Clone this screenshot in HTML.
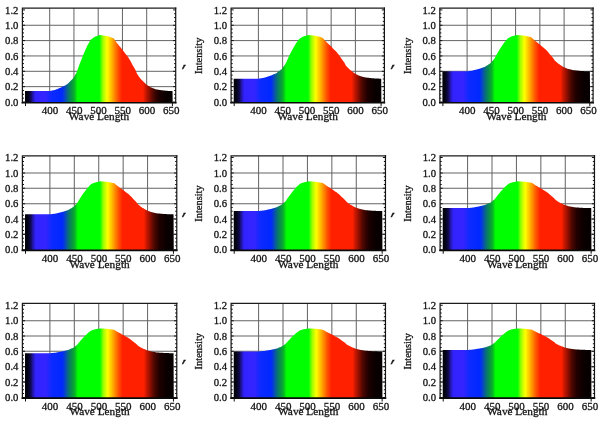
<!DOCTYPE html><html><head><meta charset="utf-8"><title>Spectra</title>
<style>html,body{margin:0;padding:0;background:#fff}svg{display:block;filter:blur(0.3px)}text{font-family:"Liberation Serif","DejaVu Serif",serif;fill:#141414;stroke:#141414;stroke-width:0.3px}</style></head><body>
<svg width="600" height="424" viewBox="0 0 600 424">
<defs><linearGradient id="sp" gradientUnits="userSpaceOnUse" x1="25.0" y1="0" x2="172.7" y2="0">
<stop offset="0.0000" stop-color="#000004"/>
<stop offset="0.0203" stop-color="#04041a"/>
<stop offset="0.0386" stop-color="#100a50"/>
<stop offset="0.0555" stop-color="#2418b8"/>
<stop offset="0.0724" stop-color="#3222ff"/>
<stop offset="0.1401" stop-color="#3424ff"/>
<stop offset="0.1808" stop-color="#0c2aff"/>
<stop offset="0.2505" stop-color="#0028ff"/>
<stop offset="0.2708" stop-color="#0848c0"/>
<stop offset="0.2911" stop-color="#087078"/>
<stop offset="0.3135" stop-color="#089048"/>
<stop offset="0.3338" stop-color="#08b028"/>
<stop offset="0.3555" stop-color="#00ff00"/>
<stop offset="0.5030" stop-color="#00ff00"/>
<stop offset="0.5281" stop-color="#a0ff00"/>
<stop offset="0.5552" stop-color="#ffff00"/>
<stop offset="0.5796" stop-color="#ffc800"/>
<stop offset="0.6026" stop-color="#ff9000"/>
<stop offset="0.6297" stop-color="#ff5000"/>
<stop offset="0.6567" stop-color="#ff2000"/>
<stop offset="0.7989" stop-color="#ff2000"/>
<stop offset="0.8172" stop-color="#c81800"/>
<stop offset="0.8348" stop-color="#a01000"/>
<stop offset="0.8666" stop-color="#500800"/>
<stop offset="0.9025" stop-color="#200000"/>
<stop offset="0.9323" stop-color="#120000"/>
<stop offset="0.9594" stop-color="#080000"/>
<stop offset="0.9932" stop-color="#060000"/>
</linearGradient></defs>
<g transform="translate(0.00,0)">
<g transform="translate(22.4,0) scale(1.0,1) translate(-22.4,0)">
<path d="M49.70 8.05V102.7M73.95 8.05V102.7M98.20 8.05V102.7M122.45 8.05V102.7M146.70 8.05V102.7M22.4 86.65H175.7M22.4 71.30H175.7M22.4 55.95H175.7M22.4 40.60H175.7M22.4 25.25H175.7" stroke="#646464" stroke-width="1" fill="none"/>
<path d="M25.00 102.7L25.00 91.02L25.50 91.02L26.00 91.02L26.50 91.02L27.00 91.02L27.50 91.02L28.00 91.02L28.50 91.02L29.00 91.02L29.50 91.02L30.00 91.02L30.50 91.02L31.00 91.02L31.50 91.02L32.00 91.02L32.50 91.02L33.00 91.02L33.50 91.02L34.00 91.02L34.50 91.02L35.00 91.02L35.50 91.02L36.00 91.02L36.50 91.02L37.00 91.02L37.50 91.02L38.00 91.02L38.50 91.02L39.00 91.02L39.50 91.02L40.00 91.02L40.50 91.02L41.00 91.02L41.50 91.02L42.00 91.02L42.50 91.02L43.00 91.02L43.50 91.02L44.00 91.02L44.50 91.02L45.00 91.02L45.50 91.02L46.00 91.02L46.50 91.02L47.00 91.02L47.50 91.02L48.00 91.02L48.50 91.02L49.00 91.02L49.50 91.02L50.00 91.02L50.50 90.91L51.00 90.80L51.50 90.69L52.00 90.58L52.50 90.47L53.00 90.36L53.50 90.25L54.00 90.14L54.50 90.02L55.00 89.91L55.50 89.78L56.00 89.58L56.50 89.37L57.00 89.16L57.50 88.95L58.00 88.75L58.50 88.54L59.00 88.33L59.50 88.12L60.00 87.92L60.50 87.71L61.00 87.50L61.50 87.30L62.00 87.09L62.50 86.87L63.00 86.58L63.50 86.30L64.00 86.02L64.50 85.73L65.00 85.45L65.50 85.17L66.00 84.88L66.50 84.60L67.00 84.32L67.50 84.03L68.00 83.62L68.50 83.12L69.00 82.62L69.50 82.12L70.00 81.62L70.50 81.12L71.00 80.62L71.50 80.12L72.00 79.62L72.50 79.12L73.00 78.62L73.50 77.76L74.00 76.90L74.50 76.03L75.00 75.17L75.50 74.31L76.00 73.45L76.50 72.59L77.00 71.31L77.50 69.92L78.00 68.53L78.50 67.15L79.00 65.76L79.50 64.37L80.00 62.99L80.50 61.70L81.00 60.45L81.50 59.19L82.00 57.93L82.50 56.67L83.00 55.42L83.50 54.16L84.00 53.02L84.50 51.91L85.00 50.79L85.50 49.68L86.00 48.57L86.50 47.46L87.00 46.35L87.50 45.37L88.00 44.48L88.50 43.60L89.00 42.71L89.50 41.83L90.00 40.94L90.50 40.05L91.00 39.48L91.50 39.12L92.00 38.76L92.50 38.40L93.00 38.04L93.50 37.68L94.00 37.32L94.50 37.02L95.00 36.82L95.50 36.62L96.00 36.42L96.50 36.23L97.00 36.03L97.50 35.83L98.00 35.63L98.50 35.43L99.00 35.24L99.50 35.04L100.00 35.05L100.50 35.12L101.00 35.18L101.50 35.25L102.00 35.31L102.50 35.38L103.00 35.45L103.50 35.51L104.00 35.58L104.50 35.64L105.00 35.72L105.50 35.80L106.00 35.89L106.50 35.98L107.00 36.07L107.50 36.16L108.00 36.30L108.50 36.48L109.00 36.65L109.50 36.83L110.00 37.00L110.50 37.18L111.00 37.35L111.50 37.53L112.00 37.70L112.50 37.88L113.00 38.05L113.50 38.23L114.00 38.74L114.50 39.47L115.00 40.21L115.50 40.94L116.00 41.68L116.50 42.41L117.00 43.12L117.50 43.73L118.00 44.33L118.50 44.93L119.00 45.54L119.50 46.14L120.00 46.75L120.50 47.35L121.00 47.95L121.50 48.56L122.00 49.16L122.50 49.81L123.00 50.49L123.50 51.17L124.00 51.85L124.50 52.53L125.00 53.21L125.50 53.83L126.00 54.45L126.50 55.07L127.00 55.69L127.50 56.31L128.00 57.08L128.50 57.84L129.00 58.61L129.50 59.38L130.00 60.15L130.50 61.02L131.00 62.06L131.50 63.10L132.00 64.03L132.50 64.89L133.00 65.75L133.50 66.61L134.00 67.46L134.50 68.32L135.00 69.18L135.50 70.04L136.00 71.22L136.50 72.47L137.00 73.72L137.50 74.62L138.00 75.30L138.50 75.97L139.00 76.65L139.50 77.33L140.00 78.00L140.50 78.68L141.00 79.32L141.50 79.82L142.00 80.32L142.50 80.82L143.00 81.32L143.50 81.82L144.00 82.32L144.50 82.82L145.00 83.32L145.50 83.82L146.00 84.32L146.50 84.71L147.00 85.02L147.50 85.34L148.00 85.65L148.50 85.97L149.00 86.28L149.50 86.59L150.00 86.91L150.50 87.22L151.00 87.42L151.50 87.62L152.00 87.82L152.50 88.02L153.00 88.21L153.50 88.41L154.00 88.61L154.50 88.81L155.00 89.01L155.50 89.20L156.00 89.36L156.50 89.43L157.00 89.51L157.50 89.59L158.00 89.67L158.50 89.75L159.00 89.82L159.50 89.90L160.00 89.98L160.50 90.06L161.00 90.14L161.50 90.21L162.00 90.29L162.50 90.36L163.00 90.41L163.50 90.46L164.00 90.51L164.50 90.56L165.00 90.61L165.50 90.67L166.00 90.72L166.50 90.77L167.00 90.82L167.50 90.87L168.00 90.92L168.50 90.94L169.00 90.95L169.50 90.96L170.00 90.97L170.50 90.98L171.00 90.99L171.50 91.00L172.00 91.01L172.50 91.02L172.70 102.7Z" fill="url(#sp)"/>
<path d="M22.4 102.7V8.05H175.7" fill="none" stroke="#1c1c1c" stroke-width="1.25" stroke-linecap="square"/>
<path d="M22.4 102.7H175.7" fill="none" stroke="#0a0a0a" stroke-width="1.6" stroke-linecap="square"/>
<path d="M175.7 102.7V8.05" fill="none" stroke="#141414" stroke-width="1.2" stroke-linecap="square"/>
<path d="M22.4 102.00h2.6M175.7 102.00h-2.6M22.4 98.16h1.6M175.7 98.16h-1.6M22.4 94.33h1.6M175.7 94.33h-1.6M22.4 90.49h1.6M175.7 90.49h-1.6M22.4 86.65h2.6M175.7 86.65h-2.6M22.4 82.81h1.6M175.7 82.81h-1.6M22.4 78.97h1.6M175.7 78.97h-1.6M22.4 75.14h1.6M175.7 75.14h-1.6M22.4 71.30h2.6M175.7 71.30h-2.6M22.4 67.46h1.6M175.7 67.46h-1.6M22.4 63.62h1.6M175.7 63.62h-1.6M22.4 59.79h1.6M175.7 59.79h-1.6M22.4 55.95h2.6M175.7 55.95h-2.6M22.4 52.11h1.6M175.7 52.11h-1.6M22.4 48.27h1.6M175.7 48.27h-1.6M22.4 44.44h1.6M175.7 44.44h-1.6M22.4 40.60h2.6M175.7 40.60h-2.6M22.4 36.76h1.6M175.7 36.76h-1.6M22.4 32.92h1.6M175.7 32.92h-1.6M22.4 29.09h1.6M175.7 29.09h-1.6M22.4 25.25h2.6M175.7 25.25h-2.6M22.4 21.41h1.6M175.7 21.41h-1.6M22.4 17.57h1.6M175.7 17.57h-1.6M22.4 13.74h1.6M175.7 13.74h-1.6M22.4 9.90h2.6M175.7 9.90h-2.6M25.5 102.7v3.4M172.4 102.7v3.4" stroke="#111" stroke-width="1" fill="none"/>
</g>
<text x="18.4" y="105.70" font-size="10.7" text-anchor="end">0.0</text>
<text x="18.4" y="90.35" font-size="10.7" text-anchor="end">0.2</text>
<text x="18.4" y="75.00" font-size="10.7" text-anchor="end">0.4</text>
<text x="18.4" y="59.65" font-size="10.7" text-anchor="end">0.6</text>
<text x="18.4" y="44.30" font-size="10.7" text-anchor="end">0.8</text>
<text x="18.4" y="28.95" font-size="10.7" text-anchor="end">1.0</text>
<text x="18.4" y="13.60" font-size="10.7" text-anchor="end">1.2</text>
<text x="49.90" y="114.4" font-size="11" text-anchor="middle">400</text>
<text x="74.15" y="114.4" font-size="11" text-anchor="middle">450</text>
<text x="98.40" y="114.4" font-size="11" text-anchor="middle">500</text>
<text x="122.65" y="114.4" font-size="11" text-anchor="middle">550</text>
<text x="146.90" y="114.4" font-size="11" text-anchor="middle">600</text>
<text x="171.15" y="114.4" font-size="11" text-anchor="middle">650</text>
<text x="99.00" y="120" font-size="11.3" text-anchor="middle">Wave Length</text>
<text x="181.6" y="66.9" font-size="12.5" font-style="italic" font-weight="bold" style="font-family:'Liberation Mono',monospace">,</text>
</g>
<g transform="translate(208.70,0)">
<g transform="translate(22.4,0) scale(1.0,1) translate(-22.4,0)">
<path d="M49.70 8.05V102.7M73.95 8.05V102.7M98.20 8.05V102.7M122.45 8.05V102.7M146.70 8.05V102.7M22.4 86.65H175.7M22.4 71.30H175.7M22.4 55.95H175.7M22.4 40.60H175.7M22.4 25.25H175.7" stroke="#646464" stroke-width="1" fill="none"/>
<path d="M25.00 102.7L25.00 78.67L25.50 78.67L26.00 78.67L26.50 78.67L27.00 78.67L27.50 78.67L28.00 78.67L28.50 78.67L29.00 78.67L29.50 78.67L30.00 78.67L30.50 78.67L31.00 78.67L31.50 78.67L32.00 78.67L32.50 78.67L33.00 78.67L33.50 78.67L34.00 78.67L34.50 78.67L35.00 78.67L35.50 78.67L36.00 78.67L36.50 78.67L37.00 78.67L37.50 78.67L38.00 78.67L38.50 78.67L39.00 78.67L39.50 78.67L40.00 78.67L40.50 78.67L41.00 78.67L41.50 78.67L42.00 78.67L42.50 78.67L43.00 78.67L43.50 78.67L44.00 78.67L44.50 78.67L45.00 78.67L45.50 78.67L46.00 78.67L46.50 78.67L47.00 78.67L47.50 78.67L48.00 78.67L48.50 78.67L49.00 78.67L49.50 78.67L50.00 78.67L50.50 78.58L51.00 78.49L51.50 78.41L52.00 78.32L52.50 78.23L53.00 78.15L53.50 78.06L54.00 77.97L54.50 77.89L55.00 77.80L55.50 77.70L56.00 77.54L56.50 77.38L57.00 77.22L57.50 77.05L58.00 76.89L58.50 76.73L59.00 76.57L59.50 76.41L60.00 76.25L60.50 76.08L61.00 75.92L61.50 75.76L62.00 75.60L62.50 75.43L63.00 75.21L63.50 74.99L64.00 74.76L64.50 74.54L65.00 74.32L65.50 74.10L66.00 73.88L66.50 73.66L67.00 73.44L67.50 73.22L68.00 72.90L68.50 72.51L69.00 72.12L69.50 71.73L70.00 71.34L70.50 70.95L71.00 70.56L71.50 70.17L72.00 69.78L72.50 69.39L73.00 69.00L73.50 68.33L74.00 67.65L74.50 66.98L75.00 66.31L75.50 65.64L76.00 64.97L76.50 64.30L77.00 63.30L77.50 62.22L78.00 61.14L78.50 60.06L79.00 58.98L79.50 57.90L80.00 56.81L80.50 55.81L81.00 54.83L81.50 53.85L82.00 52.87L82.50 51.89L83.00 50.91L83.50 49.93L84.00 49.04L84.50 48.18L85.00 47.31L85.50 46.44L86.00 45.58L86.50 44.71L87.00 43.84L87.50 43.08L88.00 42.39L88.50 41.70L89.00 41.01L89.50 40.32L90.00 39.63L90.50 38.94L91.00 38.49L91.50 38.21L92.00 37.93L92.50 37.65L93.00 37.37L93.50 37.09L94.00 36.80L94.50 36.57L95.00 36.42L95.50 36.26L96.00 36.11L96.50 35.96L97.00 35.80L97.50 35.65L98.00 35.49L98.50 35.34L99.00 35.18L99.50 35.03L100.00 35.04L100.50 35.09L101.00 35.14L101.50 35.19L102.00 35.24L102.50 35.30L103.00 35.35L103.50 35.40L104.00 35.45L104.50 35.50L105.00 35.56L105.50 35.63L106.00 35.70L106.50 35.77L107.00 35.84L107.50 35.91L108.00 36.01L108.50 36.15L109.00 36.29L109.50 36.42L110.00 36.56L110.50 36.70L111.00 36.83L111.50 36.97L112.00 37.11L112.50 37.24L113.00 37.38L113.50 37.52L114.00 37.91L114.50 38.49L115.00 39.06L115.50 39.63L116.00 40.21L116.50 40.78L117.00 41.33L117.50 41.80L118.00 42.27L118.50 42.74L119.00 43.21L119.50 43.68L120.00 44.16L120.50 44.63L121.00 45.10L121.50 45.57L122.00 46.04L122.50 46.54L123.00 47.07L123.50 47.60L124.00 48.13L124.50 48.66L125.00 49.19L125.50 49.67L126.00 50.16L126.50 50.64L127.00 51.12L127.50 51.61L128.00 52.21L128.50 52.81L129.00 53.40L129.50 54.00L130.00 54.60L130.50 55.28L131.00 56.09L131.50 56.90L132.00 57.62L132.50 58.29L133.00 58.96L133.50 59.63L134.00 60.30L134.50 60.97L135.00 61.64L135.50 62.31L136.00 63.23L136.50 64.20L137.00 65.18L137.50 65.88L138.00 66.41L138.50 66.94L139.00 67.46L139.50 67.99L140.00 68.52L140.50 69.04L141.00 69.54L141.50 69.93L142.00 70.32L142.50 70.71L143.00 71.10L143.50 71.49L144.00 71.88L144.50 72.27L145.00 72.66L145.50 73.05L146.00 73.44L146.50 73.75L147.00 73.99L147.50 74.24L148.00 74.48L148.50 74.73L149.00 74.97L149.50 75.21L150.00 75.46L150.50 75.70L151.00 75.86L151.50 76.01L152.00 76.17L152.50 76.32L153.00 76.48L153.50 76.63L154.00 76.79L154.50 76.94L155.00 77.10L155.50 77.25L156.00 77.37L156.50 77.43L157.00 77.49L157.50 77.55L158.00 77.61L158.50 77.67L159.00 77.73L159.50 77.79L160.00 77.85L160.50 77.91L161.00 77.98L161.50 78.04L162.00 78.10L162.50 78.15L163.00 78.19L163.50 78.23L164.00 78.27L164.50 78.31L165.00 78.35L165.50 78.39L166.00 78.43L166.50 78.47L167.00 78.51L167.50 78.55L168.00 78.59L168.50 78.60L169.00 78.61L169.50 78.61L170.00 78.62L170.50 78.63L171.00 78.64L171.50 78.65L172.00 78.66L172.50 78.66L172.70 102.7Z" fill="url(#sp)"/>
<path d="M22.4 102.7V8.05H175.7" fill="none" stroke="#1c1c1c" stroke-width="1.25" stroke-linecap="square"/>
<path d="M22.4 102.7H175.7" fill="none" stroke="#0a0a0a" stroke-width="1.6" stroke-linecap="square"/>
<path d="M175.7 102.7V8.05" fill="none" stroke="#141414" stroke-width="1.2" stroke-linecap="square"/>
<path d="M22.4 102.00h2.6M175.7 102.00h-2.6M22.4 98.16h1.6M175.7 98.16h-1.6M22.4 94.33h1.6M175.7 94.33h-1.6M22.4 90.49h1.6M175.7 90.49h-1.6M22.4 86.65h2.6M175.7 86.65h-2.6M22.4 82.81h1.6M175.7 82.81h-1.6M22.4 78.97h1.6M175.7 78.97h-1.6M22.4 75.14h1.6M175.7 75.14h-1.6M22.4 71.30h2.6M175.7 71.30h-2.6M22.4 67.46h1.6M175.7 67.46h-1.6M22.4 63.62h1.6M175.7 63.62h-1.6M22.4 59.79h1.6M175.7 59.79h-1.6M22.4 55.95h2.6M175.7 55.95h-2.6M22.4 52.11h1.6M175.7 52.11h-1.6M22.4 48.27h1.6M175.7 48.27h-1.6M22.4 44.44h1.6M175.7 44.44h-1.6M22.4 40.60h2.6M175.7 40.60h-2.6M22.4 36.76h1.6M175.7 36.76h-1.6M22.4 32.92h1.6M175.7 32.92h-1.6M22.4 29.09h1.6M175.7 29.09h-1.6M22.4 25.25h2.6M175.7 25.25h-2.6M22.4 21.41h1.6M175.7 21.41h-1.6M22.4 17.57h1.6M175.7 17.57h-1.6M22.4 13.74h1.6M175.7 13.74h-1.6M22.4 9.90h2.6M175.7 9.90h-2.6M25.5 102.7v3.4M172.4 102.7v3.4" stroke="#111" stroke-width="1" fill="none"/>
</g>
<text x="18.4" y="105.70" font-size="10.7" text-anchor="end">0.0</text>
<text x="18.4" y="90.35" font-size="10.7" text-anchor="end">0.2</text>
<text x="18.4" y="75.00" font-size="10.7" text-anchor="end">0.4</text>
<text x="18.4" y="59.65" font-size="10.7" text-anchor="end">0.6</text>
<text x="18.4" y="44.30" font-size="10.7" text-anchor="end">0.8</text>
<text x="18.4" y="28.95" font-size="10.7" text-anchor="end">1.0</text>
<text x="18.4" y="13.60" font-size="10.7" text-anchor="end">1.2</text>
<text x="49.90" y="114.4" font-size="11" text-anchor="middle">400</text>
<text x="74.15" y="114.4" font-size="11" text-anchor="middle">450</text>
<text x="98.40" y="114.4" font-size="11" text-anchor="middle">500</text>
<text x="122.65" y="114.4" font-size="11" text-anchor="middle">550</text>
<text x="146.90" y="114.4" font-size="11" text-anchor="middle">600</text>
<text x="171.15" y="114.4" font-size="11" text-anchor="middle">650</text>
<text x="99.00" y="120" font-size="11.3" text-anchor="middle">Wave Length</text>
<text transform="translate(-6.8,55.8) rotate(-90)" font-size="10.4" text-anchor="middle">Intensity</text>
<text x="181.6" y="66.9" font-size="12.5" font-style="italic" font-weight="bold" style="font-family:'Liberation Mono',monospace">,</text>
</g>
<g transform="translate(417.40,0)">
<g transform="translate(22.4,0) scale(1.0,1) translate(-22.4,0)">
<path d="M49.70 8.05V102.7M73.95 8.05V102.7M98.20 8.05V102.7M122.45 8.05V102.7M146.70 8.05V102.7M22.4 86.65H175.7M22.4 71.30H175.7M22.4 55.95H175.7M22.4 40.60H175.7M22.4 25.25H175.7" stroke="#646464" stroke-width="1" fill="none"/>
<path d="M25.00 102.7L25.00 71.30L25.50 71.30L26.00 71.30L26.50 71.30L27.00 71.30L27.50 71.30L28.00 71.30L28.50 71.30L29.00 71.30L29.50 71.30L30.00 71.30L30.50 71.30L31.00 71.30L31.50 71.30L32.00 71.30L32.50 71.30L33.00 71.30L33.50 71.30L34.00 71.30L34.50 71.30L35.00 71.30L35.50 71.30L36.00 71.30L36.50 71.30L37.00 71.30L37.50 71.30L38.00 71.30L38.50 71.30L39.00 71.30L39.50 71.30L40.00 71.30L40.50 71.30L41.00 71.30L41.50 71.30L42.00 71.30L42.50 71.30L43.00 71.30L43.50 71.30L44.00 71.30L44.50 71.30L45.00 71.30L45.50 71.30L46.00 71.30L46.50 71.30L47.00 71.30L47.50 71.30L48.00 71.30L48.50 71.30L49.00 71.30L49.50 71.30L50.00 71.30L50.50 71.23L51.00 71.16L51.50 71.08L52.00 71.01L52.50 70.94L53.00 70.87L53.50 70.80L54.00 70.72L54.50 70.65L55.00 70.58L55.50 70.50L56.00 70.36L56.50 70.23L57.00 70.09L57.50 69.96L58.00 69.82L58.50 69.69L59.00 69.56L59.50 69.42L60.00 69.29L60.50 69.15L61.00 69.02L61.50 68.88L62.00 68.75L62.50 68.61L63.00 68.42L63.50 68.24L64.00 68.06L64.50 67.87L65.00 67.69L65.50 67.50L66.00 67.32L66.50 67.14L67.00 66.95L67.50 66.77L68.00 66.50L68.50 66.18L69.00 65.85L69.50 65.53L70.00 65.21L70.50 64.88L71.00 64.56L71.50 64.23L72.00 63.91L72.50 63.59L73.00 63.26L73.50 62.70L74.00 62.15L74.50 61.59L75.00 61.03L75.50 60.47L76.00 59.91L76.50 59.35L77.00 58.52L77.50 57.63L78.00 56.73L78.50 55.83L79.00 54.93L79.50 54.03L80.00 53.13L80.50 52.30L81.00 51.49L81.50 50.67L82.00 49.86L82.50 49.04L83.00 48.23L83.50 47.41L84.00 46.67L84.50 45.95L85.00 45.23L85.50 44.51L86.00 43.79L86.50 43.07L87.00 42.35L87.50 41.72L88.00 41.14L88.50 40.57L89.00 40.00L89.50 39.42L90.00 38.85L90.50 38.27L91.00 37.90L91.50 37.67L92.00 37.44L92.50 37.20L93.00 36.97L93.50 36.73L94.00 36.50L94.50 36.31L95.00 36.18L95.50 36.05L96.00 35.92L96.50 35.79L97.00 35.67L97.50 35.54L98.00 35.41L98.50 35.28L99.00 35.15L99.50 35.02L100.00 35.03L100.50 35.07L101.00 35.12L101.50 35.16L102.00 35.20L102.50 35.25L103.00 35.29L103.50 35.33L104.00 35.37L104.50 35.42L105.00 35.46L105.50 35.52L106.00 35.58L106.50 35.64L107.00 35.69L107.50 35.75L108.00 35.84L108.50 35.96L109.00 36.07L109.50 36.18L110.00 36.30L110.50 36.41L111.00 36.52L111.50 36.64L112.00 36.75L112.50 36.86L113.00 36.98L113.50 37.09L114.00 37.42L114.50 37.90L115.00 38.37L115.50 38.85L116.00 39.33L116.50 39.80L117.00 40.26L117.50 40.65L118.00 41.04L118.50 41.44L119.00 41.83L119.50 42.22L120.00 42.61L120.50 43.00L121.00 43.39L121.50 43.78L122.00 44.18L122.50 44.60L123.00 45.04L123.50 45.48L124.00 45.92L124.50 46.36L125.00 46.80L125.50 47.20L126.00 47.60L126.50 48.00L127.00 48.40L127.50 48.81L128.00 49.30L128.50 49.80L129.00 50.30L129.50 50.80L130.00 51.29L130.50 51.86L131.00 52.53L131.50 53.20L132.00 53.81L132.50 54.36L133.00 54.92L133.50 55.48L134.00 56.03L134.50 56.59L135.00 57.15L135.50 57.70L136.00 58.46L136.50 59.27L137.00 60.09L137.50 60.67L138.00 61.11L138.50 61.55L139.00 61.99L139.50 62.42L140.00 62.86L140.50 63.30L141.00 63.72L141.50 64.04L142.00 64.36L142.50 64.69L143.00 65.01L143.50 65.34L144.00 65.66L144.50 65.98L145.00 66.31L145.50 66.63L146.00 66.96L146.50 67.21L147.00 67.41L147.50 67.62L148.00 67.82L148.50 68.02L149.00 68.23L149.50 68.43L150.00 68.63L150.50 68.84L151.00 68.97L151.50 69.09L152.00 69.22L152.50 69.35L153.00 69.48L153.50 69.61L154.00 69.74L154.50 69.86L155.00 69.99L155.50 70.12L156.00 70.22L156.50 70.27L157.00 70.32L157.50 70.37L158.00 70.42L158.50 70.47L159.00 70.52L159.50 70.57L160.00 70.62L160.50 70.67L161.00 70.72L161.50 70.78L162.00 70.83L162.50 70.87L163.00 70.90L163.50 70.93L164.00 70.97L164.50 71.00L165.00 71.03L165.50 71.07L166.00 71.10L166.50 71.13L167.00 71.17L167.50 71.20L168.00 71.24L168.50 71.24L169.00 71.25L169.50 71.26L170.00 71.26L170.50 71.27L171.00 71.28L171.50 71.28L172.00 71.29L172.50 71.30L172.70 102.7Z" fill="url(#sp)"/>
<path d="M22.4 102.7V8.05H175.7" fill="none" stroke="#1c1c1c" stroke-width="1.25" stroke-linecap="square"/>
<path d="M22.4 102.7H175.7" fill="none" stroke="#0a0a0a" stroke-width="1.6" stroke-linecap="square"/>
<path d="M175.7 102.7V8.05" fill="none" stroke="#141414" stroke-width="1.2" stroke-linecap="square"/>
<path d="M22.4 102.00h2.6M175.7 102.00h-2.6M22.4 98.16h1.6M175.7 98.16h-1.6M22.4 94.33h1.6M175.7 94.33h-1.6M22.4 90.49h1.6M175.7 90.49h-1.6M22.4 86.65h2.6M175.7 86.65h-2.6M22.4 82.81h1.6M175.7 82.81h-1.6M22.4 78.97h1.6M175.7 78.97h-1.6M22.4 75.14h1.6M175.7 75.14h-1.6M22.4 71.30h2.6M175.7 71.30h-2.6M22.4 67.46h1.6M175.7 67.46h-1.6M22.4 63.62h1.6M175.7 63.62h-1.6M22.4 59.79h1.6M175.7 59.79h-1.6M22.4 55.95h2.6M175.7 55.95h-2.6M22.4 52.11h1.6M175.7 52.11h-1.6M22.4 48.27h1.6M175.7 48.27h-1.6M22.4 44.44h1.6M175.7 44.44h-1.6M22.4 40.60h2.6M175.7 40.60h-2.6M22.4 36.76h1.6M175.7 36.76h-1.6M22.4 32.92h1.6M175.7 32.92h-1.6M22.4 29.09h1.6M175.7 29.09h-1.6M22.4 25.25h2.6M175.7 25.25h-2.6M22.4 21.41h1.6M175.7 21.41h-1.6M22.4 17.57h1.6M175.7 17.57h-1.6M22.4 13.74h1.6M175.7 13.74h-1.6M22.4 9.90h2.6M175.7 9.90h-2.6M25.5 102.7v3.4M172.4 102.7v3.4" stroke="#111" stroke-width="1" fill="none"/>
</g>
<text x="18.4" y="105.70" font-size="10.7" text-anchor="end">0.0</text>
<text x="18.4" y="90.35" font-size="10.7" text-anchor="end">0.2</text>
<text x="18.4" y="75.00" font-size="10.7" text-anchor="end">0.4</text>
<text x="18.4" y="59.65" font-size="10.7" text-anchor="end">0.6</text>
<text x="18.4" y="44.30" font-size="10.7" text-anchor="end">0.8</text>
<text x="18.4" y="28.95" font-size="10.7" text-anchor="end">1.0</text>
<text x="18.4" y="13.60" font-size="10.7" text-anchor="end">1.2</text>
<text x="49.90" y="114.4" font-size="11" text-anchor="middle">400</text>
<text x="74.15" y="114.4" font-size="11" text-anchor="middle">450</text>
<text x="98.40" y="114.4" font-size="11" text-anchor="middle">500</text>
<text x="122.65" y="114.4" font-size="11" text-anchor="middle">550</text>
<text x="146.90" y="114.4" font-size="11" text-anchor="middle">600</text>
<text x="171.15" y="114.4" font-size="11" text-anchor="middle">650</text>
<text x="99.00" y="120" font-size="11.3" text-anchor="middle">Wave Length</text>
<text transform="translate(-6.8,55.8) rotate(-90)" font-size="10.4" text-anchor="middle">Intensity</text>
</g>
<g transform="translate(0.00,147.7)">
<g transform="translate(22.4,0) scale(1.007,1) translate(-22.4,0)">
<path d="M49.70 8.05V102.7M73.95 8.05V102.7M98.20 8.05V102.7M122.45 8.05V102.7M146.70 8.05V102.7M22.4 86.65H175.7M22.4 71.30H175.7M22.4 55.95H175.7M22.4 40.60H175.7M22.4 25.25H175.7" stroke="#646464" stroke-width="1" fill="none"/>
<path d="M25.00 102.7L25.00 66.62L25.50 66.62L26.00 66.62L26.50 66.62L27.00 66.62L27.50 66.62L28.00 66.62L28.50 66.62L29.00 66.62L29.50 66.62L30.00 66.62L30.50 66.62L31.00 66.62L31.50 66.62L32.00 66.62L32.50 66.62L33.00 66.62L33.50 66.62L34.00 66.62L34.50 66.62L35.00 66.62L35.50 66.62L36.00 66.62L36.50 66.62L37.00 66.62L37.50 66.62L38.00 66.62L38.50 66.62L39.00 66.62L39.50 66.62L40.00 66.62L40.50 66.62L41.00 66.62L41.50 66.62L42.00 66.62L42.50 66.62L43.00 66.62L43.50 66.62L44.00 66.62L44.50 66.62L45.00 66.62L45.50 66.62L46.00 66.62L46.50 66.62L47.00 66.62L47.50 66.62L48.00 66.62L48.50 66.62L49.00 66.62L49.50 66.62L50.00 66.62L50.50 66.55L51.00 66.49L51.50 66.42L52.00 66.36L52.50 66.29L53.00 66.23L53.50 66.16L54.00 66.09L54.50 66.03L55.00 65.96L55.50 65.89L56.00 65.76L56.50 65.64L57.00 65.52L57.50 65.40L58.00 65.28L58.50 65.15L59.00 65.03L59.50 64.91L60.00 64.79L60.50 64.67L61.00 64.54L61.50 64.42L62.00 64.30L62.50 64.17L63.00 64.00L63.50 63.84L64.00 63.67L64.50 63.50L65.00 63.33L65.50 63.17L66.00 63.00L66.50 62.83L67.00 62.67L67.50 62.50L68.00 62.26L68.50 61.96L69.00 61.67L69.50 61.37L70.00 61.08L70.50 60.78L71.00 60.49L71.50 60.19L72.00 59.90L72.50 59.61L73.00 59.31L73.50 58.80L74.00 58.30L74.50 57.79L75.00 57.28L75.50 56.77L76.00 56.27L76.50 55.76L77.00 55.00L77.50 54.19L78.00 53.37L78.50 52.55L79.00 51.74L79.50 50.92L80.00 50.10L80.50 49.35L81.00 48.61L81.50 47.87L82.00 47.12L82.50 46.38L83.00 45.64L83.50 44.90L84.00 44.23L84.50 43.58L85.00 42.92L85.50 42.27L86.00 41.61L86.50 40.96L87.00 40.30L87.50 39.73L88.00 39.20L88.50 38.68L89.00 38.16L89.50 37.64L90.00 37.12L90.50 36.59L91.00 36.26L91.50 36.05L92.00 35.83L92.50 35.62L93.00 35.41L93.50 35.19L94.00 34.98L94.50 34.81L95.00 34.69L95.50 34.57L96.00 34.46L96.50 34.34L97.00 34.22L97.50 34.11L98.00 33.99L98.50 33.87L99.00 33.76L99.50 33.64L100.00 33.65L100.50 33.69L101.00 33.72L101.50 33.76L102.00 33.80L102.50 33.84L103.00 33.88L103.50 33.92L104.00 33.96L104.50 34.00L105.00 34.04L105.50 34.09L106.00 34.14L106.50 34.20L107.00 34.25L107.50 34.30L108.00 34.38L108.50 34.49L109.00 34.59L109.50 34.69L110.00 34.80L110.50 34.90L111.00 35.00L111.50 35.11L112.00 35.21L112.50 35.31L113.00 35.42L113.50 35.52L114.00 35.82L114.50 36.25L115.00 36.69L115.50 37.12L116.00 37.55L116.50 37.98L117.00 38.40L117.50 38.76L118.00 39.11L118.50 39.47L119.00 39.82L119.50 40.18L120.00 40.54L120.50 40.89L121.00 41.25L121.50 41.60L122.00 41.96L122.50 42.34L123.00 42.74L123.50 43.14L124.00 43.54L124.50 43.94L125.00 44.34L125.50 44.71L126.00 45.07L126.50 45.44L127.00 45.80L127.50 46.17L128.00 46.62L128.50 47.07L129.00 47.53L129.50 47.98L130.00 48.43L130.50 48.95L131.00 49.56L131.50 50.17L132.00 50.72L132.50 51.22L133.00 51.73L133.50 52.23L134.00 52.74L134.50 53.25L135.00 53.75L135.50 54.26L136.00 54.95L136.50 55.69L137.00 56.42L137.50 56.96L138.00 57.35L138.50 57.75L139.00 58.15L139.50 58.55L140.00 58.95L140.50 59.35L141.00 59.72L141.50 60.02L142.00 60.31L142.50 60.61L143.00 60.90L143.50 61.20L144.00 61.49L144.50 61.79L145.00 62.08L145.50 62.38L146.00 62.67L146.50 62.90L147.00 63.08L147.50 63.27L148.00 63.45L148.50 63.64L149.00 63.82L149.50 64.01L150.00 64.19L150.50 64.38L151.00 64.50L151.50 64.61L152.00 64.73L152.50 64.85L153.00 64.96L153.50 65.08L154.00 65.20L154.50 65.31L155.00 65.43L155.50 65.55L156.00 65.63L156.50 65.68L157.00 65.73L157.50 65.77L158.00 65.82L158.50 65.87L159.00 65.91L159.50 65.96L160.00 66.00L160.50 66.05L161.00 66.10L161.50 66.14L162.00 66.19L162.50 66.22L163.00 66.25L163.50 66.28L164.00 66.32L164.50 66.35L165.00 66.38L165.50 66.41L166.00 66.44L166.50 66.47L167.00 66.50L167.50 66.53L168.00 66.56L168.50 66.57L169.00 66.57L169.50 66.58L170.00 66.58L170.50 66.59L171.00 66.60L171.50 66.60L172.00 66.61L172.50 66.62L172.70 102.7Z" fill="url(#sp)"/>
<path d="M22.4 102.7V8.05H175.7" fill="none" stroke="#1c1c1c" stroke-width="1.25" stroke-linecap="square"/>
<path d="M22.4 102.7H175.7" fill="none" stroke="#0a0a0a" stroke-width="1.6" stroke-linecap="square"/>
<path d="M175.7 102.7V8.05" fill="none" stroke="#141414" stroke-width="1.2" stroke-linecap="square"/>
<path d="M22.4 102.00h2.6M175.7 102.00h-2.6M22.4 98.16h1.6M175.7 98.16h-1.6M22.4 94.33h1.6M175.7 94.33h-1.6M22.4 90.49h1.6M175.7 90.49h-1.6M22.4 86.65h2.6M175.7 86.65h-2.6M22.4 82.81h1.6M175.7 82.81h-1.6M22.4 78.97h1.6M175.7 78.97h-1.6M22.4 75.14h1.6M175.7 75.14h-1.6M22.4 71.30h2.6M175.7 71.30h-2.6M22.4 67.46h1.6M175.7 67.46h-1.6M22.4 63.62h1.6M175.7 63.62h-1.6M22.4 59.79h1.6M175.7 59.79h-1.6M22.4 55.95h2.6M175.7 55.95h-2.6M22.4 52.11h1.6M175.7 52.11h-1.6M22.4 48.27h1.6M175.7 48.27h-1.6M22.4 44.44h1.6M175.7 44.44h-1.6M22.4 40.60h2.6M175.7 40.60h-2.6M22.4 36.76h1.6M175.7 36.76h-1.6M22.4 32.92h1.6M175.7 32.92h-1.6M22.4 29.09h1.6M175.7 29.09h-1.6M22.4 25.25h2.6M175.7 25.25h-2.6M22.4 21.41h1.6M175.7 21.41h-1.6M22.4 17.57h1.6M175.7 17.57h-1.6M22.4 13.74h1.6M175.7 13.74h-1.6M22.4 9.90h2.6M175.7 9.90h-2.6M25.5 102.7v3.4M172.4 102.7v3.4" stroke="#111" stroke-width="1" fill="none"/>
</g>
<text x="18.4" y="105.70" font-size="10.7" text-anchor="end">0.0</text>
<text x="18.4" y="90.35" font-size="10.7" text-anchor="end">0.2</text>
<text x="18.4" y="75.00" font-size="10.7" text-anchor="end">0.4</text>
<text x="18.4" y="59.65" font-size="10.7" text-anchor="end">0.6</text>
<text x="18.4" y="44.30" font-size="10.7" text-anchor="end">0.8</text>
<text x="18.4" y="28.95" font-size="10.7" text-anchor="end">1.0</text>
<text x="18.4" y="13.60" font-size="10.7" text-anchor="end">1.2</text>
<text x="50.09" y="114.4" font-size="11" text-anchor="middle">400</text>
<text x="74.51" y="114.4" font-size="11" text-anchor="middle">450</text>
<text x="98.93" y="114.4" font-size="11" text-anchor="middle">500</text>
<text x="123.35" y="114.4" font-size="11" text-anchor="middle">550</text>
<text x="147.77" y="114.4" font-size="11" text-anchor="middle">600</text>
<text x="172.19" y="114.4" font-size="11" text-anchor="middle">650</text>
<text x="99.54" y="120" font-size="11.3" text-anchor="middle">Wave Length</text>
<text x="181.6" y="66.9" font-size="12.5" font-style="italic" font-weight="bold" style="font-family:'Liberation Mono',monospace">,</text>
</g>
<g transform="translate(208.70,147.7)">
<g transform="translate(22.4,0) scale(1.007,1) translate(-22.4,0)">
<path d="M49.70 8.05V102.7M73.95 8.05V102.7M98.20 8.05V102.7M122.45 8.05V102.7M146.70 8.05V102.7M22.4 86.65H175.7M22.4 71.30H175.7M22.4 55.95H175.7M22.4 40.60H175.7M22.4 25.25H175.7" stroke="#646464" stroke-width="1" fill="none"/>
<path d="M25.00 102.7L25.00 63.32L25.50 63.32L26.00 63.32L26.50 63.32L27.00 63.32L27.50 63.32L28.00 63.32L28.50 63.32L29.00 63.32L29.50 63.32L30.00 63.32L30.50 63.32L31.00 63.32L31.50 63.32L32.00 63.32L32.50 63.32L33.00 63.32L33.50 63.32L34.00 63.32L34.50 63.32L35.00 63.32L35.50 63.32L36.00 63.32L36.50 63.32L37.00 63.32L37.50 63.32L38.00 63.32L38.50 63.32L39.00 63.32L39.50 63.32L40.00 63.32L40.50 63.32L41.00 63.32L41.50 63.32L42.00 63.32L42.50 63.32L43.00 63.32L43.50 63.32L44.00 63.32L44.50 63.32L45.00 63.32L45.50 63.32L46.00 63.32L46.50 63.32L47.00 63.32L47.50 63.32L48.00 63.32L48.50 63.32L49.00 63.32L49.50 63.32L50.00 63.32L50.50 63.26L51.00 63.20L51.50 63.14L52.00 63.08L52.50 63.02L53.00 62.96L53.50 62.91L54.00 62.85L54.50 62.79L55.00 62.73L55.50 62.66L56.00 62.55L56.50 62.44L57.00 62.33L57.50 62.22L58.00 62.11L58.50 62.00L59.00 61.89L59.50 61.78L60.00 61.67L60.50 61.56L61.00 61.45L61.50 61.34L62.00 61.23L62.50 61.11L63.00 60.96L63.50 60.81L64.00 60.66L64.50 60.51L65.00 60.36L65.50 60.21L66.00 60.06L66.50 59.91L67.00 59.76L67.50 59.61L68.00 59.39L68.50 59.13L69.00 58.86L69.50 58.60L70.00 58.33L70.50 58.07L71.00 57.80L71.50 57.54L72.00 57.27L72.50 57.01L73.00 56.74L73.50 56.28L74.00 55.83L74.50 55.37L75.00 54.91L75.50 54.46L76.00 54.00L76.50 53.54L77.00 52.86L77.50 52.13L78.00 51.39L78.50 50.66L79.00 49.92L79.50 49.19L80.00 48.45L80.50 47.77L81.00 47.11L81.50 46.44L82.00 45.77L82.50 45.11L83.00 44.44L83.50 43.77L84.00 43.17L84.50 42.58L85.00 41.99L85.50 41.40L86.00 40.81L86.50 40.22L87.00 39.63L87.50 39.12L88.00 38.65L88.50 38.18L89.00 37.71L89.50 37.24L90.00 36.77L90.50 36.30L91.00 35.99L91.50 35.80L92.00 35.61L92.50 35.42L93.00 35.23L93.50 35.04L94.00 34.84L94.50 34.69L95.00 34.58L95.50 34.48L96.00 34.37L96.50 34.27L97.00 34.16L97.50 34.06L98.00 33.95L98.50 33.85L99.00 33.74L99.50 33.64L100.00 33.64L100.50 33.68L101.00 33.71L101.50 33.75L102.00 33.78L102.50 33.82L103.00 33.85L103.50 33.89L104.00 33.92L104.50 33.96L105.00 34.00L105.50 34.04L106.00 34.09L106.50 34.14L107.00 34.19L107.50 34.23L108.00 34.31L108.50 34.40L109.00 34.49L109.50 34.59L110.00 34.68L110.50 34.77L111.00 34.86L111.50 34.96L112.00 35.05L112.50 35.14L113.00 35.24L113.50 35.33L114.00 35.60L114.50 35.99L115.00 36.38L115.50 36.77L116.00 37.16L116.50 37.55L117.00 37.92L117.50 38.24L118.00 38.56L118.50 38.88L119.00 39.20L119.50 39.52L120.00 39.84L120.50 40.16L121.00 40.48L121.50 40.81L122.00 41.13L122.50 41.47L123.00 41.83L123.50 42.19L124.00 42.55L124.50 42.91L125.00 43.27L125.50 43.60L126.00 43.93L126.50 44.26L127.00 44.58L127.50 44.91L128.00 45.32L128.50 45.73L129.00 46.14L129.50 46.54L130.00 46.95L130.50 47.41L131.00 47.96L131.50 48.51L132.00 49.01L132.50 49.46L133.00 49.92L133.50 50.37L134.00 50.83L134.50 51.28L135.00 51.74L135.50 52.19L136.00 52.82L136.50 53.48L137.00 54.14L137.50 54.62L138.00 54.98L138.50 55.34L139.00 55.70L139.50 56.06L140.00 56.41L140.50 56.77L141.00 57.11L141.50 57.38L142.00 57.64L142.50 57.91L143.00 58.17L143.50 58.44L144.00 58.70L144.50 58.97L145.00 59.23L145.50 59.50L146.00 59.76L146.50 59.97L147.00 60.14L147.50 60.30L148.00 60.47L148.50 60.64L149.00 60.80L149.50 60.97L150.00 61.14L150.50 61.30L151.00 61.41L151.50 61.51L152.00 61.62L152.50 61.72L153.00 61.83L153.50 61.93L154.00 62.04L154.50 62.14L155.00 62.25L155.50 62.35L156.00 62.43L156.50 62.47L157.00 62.52L157.50 62.56L158.00 62.60L158.50 62.64L159.00 62.68L159.50 62.72L160.00 62.76L160.50 62.81L161.00 62.85L161.50 62.89L162.00 62.93L162.50 62.96L163.00 62.99L163.50 63.02L164.00 63.05L164.50 63.07L165.00 63.10L165.50 63.13L166.00 63.16L166.50 63.18L167.00 63.21L167.50 63.24L168.00 63.26L168.50 63.27L169.00 63.28L169.50 63.28L170.00 63.29L170.50 63.29L171.00 63.30L171.50 63.30L172.00 63.31L172.50 63.32L172.70 102.7Z" fill="url(#sp)"/>
<path d="M22.4 102.7V8.05H175.7" fill="none" stroke="#1c1c1c" stroke-width="1.25" stroke-linecap="square"/>
<path d="M22.4 102.7H175.7" fill="none" stroke="#0a0a0a" stroke-width="1.6" stroke-linecap="square"/>
<path d="M175.7 102.7V8.05" fill="none" stroke="#141414" stroke-width="1.2" stroke-linecap="square"/>
<path d="M22.4 102.00h2.6M175.7 102.00h-2.6M22.4 98.16h1.6M175.7 98.16h-1.6M22.4 94.33h1.6M175.7 94.33h-1.6M22.4 90.49h1.6M175.7 90.49h-1.6M22.4 86.65h2.6M175.7 86.65h-2.6M22.4 82.81h1.6M175.7 82.81h-1.6M22.4 78.97h1.6M175.7 78.97h-1.6M22.4 75.14h1.6M175.7 75.14h-1.6M22.4 71.30h2.6M175.7 71.30h-2.6M22.4 67.46h1.6M175.7 67.46h-1.6M22.4 63.62h1.6M175.7 63.62h-1.6M22.4 59.79h1.6M175.7 59.79h-1.6M22.4 55.95h2.6M175.7 55.95h-2.6M22.4 52.11h1.6M175.7 52.11h-1.6M22.4 48.27h1.6M175.7 48.27h-1.6M22.4 44.44h1.6M175.7 44.44h-1.6M22.4 40.60h2.6M175.7 40.60h-2.6M22.4 36.76h1.6M175.7 36.76h-1.6M22.4 32.92h1.6M175.7 32.92h-1.6M22.4 29.09h1.6M175.7 29.09h-1.6M22.4 25.25h2.6M175.7 25.25h-2.6M22.4 21.41h1.6M175.7 21.41h-1.6M22.4 17.57h1.6M175.7 17.57h-1.6M22.4 13.74h1.6M175.7 13.74h-1.6M22.4 9.90h2.6M175.7 9.90h-2.6M25.5 102.7v3.4M172.4 102.7v3.4" stroke="#111" stroke-width="1" fill="none"/>
</g>
<text x="18.4" y="105.70" font-size="10.7" text-anchor="end">0.0</text>
<text x="18.4" y="90.35" font-size="10.7" text-anchor="end">0.2</text>
<text x="18.4" y="75.00" font-size="10.7" text-anchor="end">0.4</text>
<text x="18.4" y="59.65" font-size="10.7" text-anchor="end">0.6</text>
<text x="18.4" y="44.30" font-size="10.7" text-anchor="end">0.8</text>
<text x="18.4" y="28.95" font-size="10.7" text-anchor="end">1.0</text>
<text x="18.4" y="13.60" font-size="10.7" text-anchor="end">1.2</text>
<text x="50.09" y="114.4" font-size="11" text-anchor="middle">400</text>
<text x="74.51" y="114.4" font-size="11" text-anchor="middle">450</text>
<text x="98.93" y="114.4" font-size="11" text-anchor="middle">500</text>
<text x="123.35" y="114.4" font-size="11" text-anchor="middle">550</text>
<text x="147.77" y="114.4" font-size="11" text-anchor="middle">600</text>
<text x="172.19" y="114.4" font-size="11" text-anchor="middle">650</text>
<text x="99.54" y="120" font-size="11.3" text-anchor="middle">Wave Length</text>
<text transform="translate(-6.8,55.8) rotate(-90)" font-size="10.4" text-anchor="middle">Intensity</text>
<text x="181.6" y="66.9" font-size="12.5" font-style="italic" font-weight="bold" style="font-family:'Liberation Mono',monospace">,</text>
</g>
<g transform="translate(417.70,147.7)">
<g transform="translate(22.4,0) scale(1.007,1) translate(-22.4,0)">
<path d="M49.70 8.05V102.7M73.95 8.05V102.7M98.20 8.05V102.7M122.45 8.05V102.7M146.70 8.05V102.7M22.4 86.65H175.7M22.4 71.30H175.7M22.4 55.95H175.7M22.4 40.60H175.7M22.4 25.25H175.7" stroke="#646464" stroke-width="1" fill="none"/>
<path d="M25.00 102.7L25.00 60.40L25.50 60.40L26.00 60.40L26.50 60.40L27.00 60.40L27.50 60.40L28.00 60.40L28.50 60.40L29.00 60.40L29.50 60.40L30.00 60.40L30.50 60.40L31.00 60.40L31.50 60.40L32.00 60.40L32.50 60.40L33.00 60.40L33.50 60.40L34.00 60.40L34.50 60.40L35.00 60.40L35.50 60.40L36.00 60.40L36.50 60.40L37.00 60.40L37.50 60.40L38.00 60.40L38.50 60.40L39.00 60.40L39.50 60.40L40.00 60.40L40.50 60.40L41.00 60.40L41.50 60.40L42.00 60.40L42.50 60.40L43.00 60.40L43.50 60.40L44.00 60.40L44.50 60.40L45.00 60.40L45.50 60.40L46.00 60.40L46.50 60.40L47.00 60.40L47.50 60.40L48.00 60.40L48.50 60.40L49.00 60.40L49.50 60.40L50.00 60.40L50.50 60.35L51.00 60.30L51.50 60.24L52.00 60.19L52.50 60.14L53.00 60.08L53.50 60.03L54.00 59.98L54.50 59.92L55.00 59.87L55.50 59.81L56.00 59.71L56.50 59.61L57.00 59.51L57.50 59.41L58.00 59.31L58.50 59.21L59.00 59.11L59.50 59.02L60.00 58.92L60.50 58.82L61.00 58.72L61.50 58.62L62.00 58.52L62.50 58.41L63.00 58.28L63.50 58.14L64.00 58.01L64.50 57.87L65.00 57.74L65.50 57.60L66.00 57.47L66.50 57.33L67.00 57.19L67.50 57.06L68.00 56.86L68.50 56.62L69.00 56.38L69.50 56.14L70.00 55.91L70.50 55.67L71.00 55.43L71.50 55.19L72.00 54.95L72.50 54.71L73.00 54.47L73.50 54.06L74.00 53.65L74.50 53.23L75.00 52.82L75.50 52.41L76.00 52.00L76.50 51.59L77.00 50.97L77.50 50.31L78.00 49.65L78.50 48.99L79.00 48.32L79.50 47.66L80.00 47.00L80.50 46.38L81.00 45.78L81.50 45.18L82.00 44.58L82.50 43.98L83.00 43.38L83.50 42.78L84.00 42.23L84.50 41.70L85.00 41.17L85.50 40.64L86.00 40.10L86.50 39.57L87.00 39.04L87.50 38.58L88.00 38.15L88.50 37.73L89.00 37.30L89.50 36.88L90.00 36.46L90.50 36.03L91.00 35.76L91.50 35.59L92.00 35.41L92.50 35.24L93.00 35.07L93.50 34.90L94.00 34.72L94.50 34.58L95.00 34.49L95.50 34.39L96.00 34.30L96.50 34.20L97.00 34.11L97.50 34.01L98.00 33.92L98.50 33.82L99.00 33.73L99.50 33.63L100.00 33.64L100.50 33.67L101.00 33.70L101.50 33.74L102.00 33.77L102.50 33.80L103.00 33.83L103.50 33.86L104.00 33.89L104.50 33.93L105.00 33.96L105.50 34.00L106.00 34.04L106.50 34.09L107.00 34.13L107.50 34.17L108.00 34.24L108.50 34.32L109.00 34.41L109.50 34.49L110.00 34.57L110.50 34.66L111.00 34.74L111.50 34.83L112.00 34.91L112.50 34.99L113.00 35.08L113.50 35.16L114.00 35.40L114.50 35.76L115.00 36.11L115.50 36.46L116.00 36.81L116.50 37.16L117.00 37.50L117.50 37.79L118.00 38.08L118.50 38.37L119.00 38.66L119.50 38.94L120.00 39.23L120.50 39.52L121.00 39.81L121.50 40.10L122.00 40.39L122.50 40.70L123.00 41.02L123.50 41.35L124.00 41.67L124.50 42.00L125.00 42.32L125.50 42.62L126.00 42.91L126.50 43.21L127.00 43.51L127.50 43.80L128.00 44.17L128.50 44.54L129.00 44.91L129.50 45.27L130.00 45.64L130.50 46.06L131.00 46.55L131.50 47.05L132.00 47.49L132.50 47.91L133.00 48.32L133.50 48.73L134.00 49.14L134.50 49.55L135.00 49.96L135.50 50.37L136.00 50.93L136.50 51.53L137.00 52.13L137.50 52.56L138.00 52.88L138.50 53.21L139.00 53.53L139.50 53.85L140.00 54.18L140.50 54.50L141.00 54.81L141.50 55.04L142.00 55.28L142.50 55.52L143.00 55.76L143.50 56.00L144.00 56.24L144.50 56.48L145.00 56.72L145.50 56.96L146.00 57.20L146.50 57.38L147.00 57.53L147.50 57.68L148.00 57.83L148.50 57.98L149.00 58.13L149.50 58.28L150.00 58.43L150.50 58.58L151.00 58.68L151.50 58.77L152.00 58.87L152.50 58.96L153.00 59.06L153.50 59.15L154.00 59.25L154.50 59.34L155.00 59.44L155.50 59.53L156.00 59.60L156.50 59.64L157.00 59.68L157.50 59.72L158.00 59.75L158.50 59.79L159.00 59.83L159.50 59.86L160.00 59.90L160.50 59.94L161.00 59.98L161.50 60.01L162.00 60.05L162.50 60.08L163.00 60.11L163.50 60.13L164.00 60.16L164.50 60.18L165.00 60.21L165.50 60.23L166.00 60.25L166.50 60.28L167.00 60.30L167.50 60.33L168.00 60.35L168.50 60.36L169.00 60.36L169.50 60.37L170.00 60.37L170.50 60.38L171.00 60.38L171.50 60.39L172.00 60.39L172.50 60.40L172.70 102.7Z" fill="url(#sp)"/>
<path d="M22.4 102.7V8.05H175.7" fill="none" stroke="#1c1c1c" stroke-width="1.25" stroke-linecap="square"/>
<path d="M22.4 102.7H175.7" fill="none" stroke="#0a0a0a" stroke-width="1.6" stroke-linecap="square"/>
<path d="M175.7 102.7V8.05" fill="none" stroke="#141414" stroke-width="1.2" stroke-linecap="square"/>
<path d="M22.4 102.00h2.6M175.7 102.00h-2.6M22.4 98.16h1.6M175.7 98.16h-1.6M22.4 94.33h1.6M175.7 94.33h-1.6M22.4 90.49h1.6M175.7 90.49h-1.6M22.4 86.65h2.6M175.7 86.65h-2.6M22.4 82.81h1.6M175.7 82.81h-1.6M22.4 78.97h1.6M175.7 78.97h-1.6M22.4 75.14h1.6M175.7 75.14h-1.6M22.4 71.30h2.6M175.7 71.30h-2.6M22.4 67.46h1.6M175.7 67.46h-1.6M22.4 63.62h1.6M175.7 63.62h-1.6M22.4 59.79h1.6M175.7 59.79h-1.6M22.4 55.95h2.6M175.7 55.95h-2.6M22.4 52.11h1.6M175.7 52.11h-1.6M22.4 48.27h1.6M175.7 48.27h-1.6M22.4 44.44h1.6M175.7 44.44h-1.6M22.4 40.60h2.6M175.7 40.60h-2.6M22.4 36.76h1.6M175.7 36.76h-1.6M22.4 32.92h1.6M175.7 32.92h-1.6M22.4 29.09h1.6M175.7 29.09h-1.6M22.4 25.25h2.6M175.7 25.25h-2.6M22.4 21.41h1.6M175.7 21.41h-1.6M22.4 17.57h1.6M175.7 17.57h-1.6M22.4 13.74h1.6M175.7 13.74h-1.6M22.4 9.90h2.6M175.7 9.90h-2.6M25.5 102.7v3.4M172.4 102.7v3.4" stroke="#111" stroke-width="1" fill="none"/>
</g>
<text x="18.4" y="105.70" font-size="10.7" text-anchor="end">0.0</text>
<text x="18.4" y="90.35" font-size="10.7" text-anchor="end">0.2</text>
<text x="18.4" y="75.00" font-size="10.7" text-anchor="end">0.4</text>
<text x="18.4" y="59.65" font-size="10.7" text-anchor="end">0.6</text>
<text x="18.4" y="44.30" font-size="10.7" text-anchor="end">0.8</text>
<text x="18.4" y="28.95" font-size="10.7" text-anchor="end">1.0</text>
<text x="18.4" y="13.60" font-size="10.7" text-anchor="end">1.2</text>
<text x="50.09" y="114.4" font-size="11" text-anchor="middle">400</text>
<text x="74.51" y="114.4" font-size="11" text-anchor="middle">450</text>
<text x="98.93" y="114.4" font-size="11" text-anchor="middle">500</text>
<text x="123.35" y="114.4" font-size="11" text-anchor="middle">550</text>
<text x="147.77" y="114.4" font-size="11" text-anchor="middle">600</text>
<text x="172.19" y="114.4" font-size="11" text-anchor="middle">650</text>
<text x="99.54" y="120" font-size="11.3" text-anchor="middle">Wave Length</text>
<text transform="translate(-6.8,55.8) rotate(-90)" font-size="10.4" text-anchor="middle">Intensity</text>
</g>
<g transform="translate(0.00,295.4)">
<g transform="translate(22.4,0) scale(1.007,1) translate(-22.4,0)">
<path d="M49.70 8.05V102.7M73.95 8.05V102.7M98.20 8.05V102.7M122.45 8.05V102.7M146.70 8.05V102.7M22.4 86.65H175.7M22.4 71.30H175.7M22.4 55.95H175.7M22.4 40.60H175.7M22.4 25.25H175.7" stroke="#646464" stroke-width="1" fill="none"/>
<path d="M25.00 102.7L25.00 57.79L25.50 57.79L26.00 57.79L26.50 57.79L27.00 57.79L27.50 57.79L28.00 57.79L28.50 57.79L29.00 57.79L29.50 57.79L30.00 57.79L30.50 57.79L31.00 57.79L31.50 57.79L32.00 57.79L32.50 57.79L33.00 57.79L33.50 57.79L34.00 57.79L34.50 57.79L35.00 57.79L35.50 57.79L36.00 57.79L36.50 57.79L37.00 57.79L37.50 57.79L38.00 57.79L38.50 57.79L39.00 57.79L39.50 57.79L40.00 57.79L40.50 57.79L41.00 57.79L41.50 57.79L42.00 57.79L42.50 57.79L43.00 57.79L43.50 57.79L44.00 57.79L44.50 57.79L45.00 57.79L45.50 57.79L46.00 57.79L46.50 57.79L47.00 57.79L47.50 57.79L48.00 57.79L48.50 57.79L49.00 57.79L49.50 57.79L50.00 57.79L50.50 57.74L51.00 57.69L51.50 57.64L52.00 57.60L52.50 57.55L53.00 57.50L53.50 57.45L54.00 57.40L54.50 57.35L55.00 57.30L55.50 57.24L56.00 57.15L56.50 57.06L57.00 56.97L57.50 56.88L58.00 56.78L58.50 56.69L59.00 56.60L59.50 56.51L60.00 56.42L60.50 56.33L61.00 56.23L61.50 56.14L62.00 56.05L62.50 55.95L63.00 55.83L63.50 55.70L64.00 55.58L64.50 55.45L65.00 55.33L65.50 55.20L66.00 55.07L66.50 54.95L67.00 54.82L67.50 54.70L68.00 54.52L68.50 54.29L69.00 54.07L69.50 53.85L70.00 53.63L70.50 53.41L71.00 53.19L71.50 52.97L72.00 52.75L72.50 52.52L73.00 52.30L73.50 51.92L74.00 51.54L74.50 51.16L75.00 50.78L75.50 50.40L76.00 50.02L76.50 49.63L77.00 49.07L77.50 48.45L78.00 47.84L78.50 47.23L79.00 46.61L79.50 46.00L80.00 45.39L80.50 44.82L81.00 44.26L81.50 43.71L82.00 43.15L82.50 42.59L83.00 42.04L83.50 41.48L84.00 40.97L84.50 40.48L85.00 39.99L85.50 39.50L86.00 39.01L86.50 38.52L87.00 38.02L87.50 37.59L88.00 37.20L88.50 36.81L89.00 36.42L89.50 36.02L90.00 35.63L90.50 35.24L91.00 34.99L91.50 34.83L92.00 34.67L92.50 34.51L93.00 34.35L93.50 34.19L94.00 34.03L94.50 33.90L95.00 33.81L95.50 33.72L96.00 33.63L96.50 33.55L97.00 33.46L97.50 33.37L98.00 33.28L98.50 33.19L99.00 33.11L99.50 33.02L100.00 33.03L100.50 33.05L101.00 33.08L101.50 33.11L102.00 33.14L102.50 33.17L103.00 33.20L103.50 33.23L104.00 33.26L104.50 33.29L105.00 33.32L105.50 33.36L106.00 33.40L106.50 33.44L107.00 33.48L107.50 33.52L108.00 33.58L108.50 33.66L109.00 33.73L109.50 33.81L110.00 33.89L110.50 33.97L111.00 34.04L111.50 34.12L112.00 34.20L112.50 34.28L113.00 34.35L113.50 34.43L114.00 34.66L114.50 34.98L115.00 35.31L115.50 35.63L116.00 35.96L116.50 36.28L117.00 36.60L117.50 36.86L118.00 37.13L118.50 37.40L119.00 37.67L119.50 37.93L120.00 38.20L120.50 38.47L121.00 38.73L121.50 39.00L122.00 39.27L122.50 39.56L123.00 39.86L123.50 40.16L124.00 40.46L124.50 40.76L125.00 41.06L125.50 41.33L126.00 41.61L126.50 41.88L127.00 42.16L127.50 42.43L128.00 42.77L128.50 43.11L129.00 43.45L129.50 43.79L130.00 44.13L130.50 44.52L131.00 44.98L131.50 45.43L132.00 45.85L132.50 46.23L133.00 46.61L133.50 46.99L134.00 47.37L134.50 47.75L135.00 48.13L135.50 48.51L136.00 49.03L136.50 49.58L137.00 50.13L137.50 50.53L138.00 50.83L138.50 51.13L139.00 51.43L139.50 51.73L140.00 52.03L140.50 52.33L141.00 52.61L141.50 52.83L142.00 53.06L142.50 53.28L143.00 53.50L143.50 53.72L144.00 53.94L144.50 54.16L145.00 54.38L145.50 54.60L146.00 54.83L146.50 55.00L147.00 55.14L147.50 55.28L148.00 55.41L148.50 55.55L149.00 55.69L149.50 55.83L150.00 55.97L150.50 56.11L151.00 56.20L151.50 56.29L152.00 56.37L152.50 56.46L153.00 56.55L153.50 56.64L154.00 56.72L154.50 56.81L155.00 56.90L155.50 56.99L156.00 57.05L156.50 57.09L157.00 57.12L157.50 57.16L158.00 57.19L158.50 57.23L159.00 57.26L159.50 57.30L160.00 57.33L160.50 57.36L161.00 57.40L161.50 57.43L162.00 57.47L162.50 57.50L163.00 57.52L163.50 57.54L164.00 57.56L164.50 57.59L165.00 57.61L165.50 57.63L166.00 57.66L166.50 57.68L167.00 57.70L167.50 57.72L168.00 57.75L168.50 57.75L169.00 57.76L169.50 57.76L170.00 57.77L170.50 57.77L171.00 57.78L171.50 57.78L172.00 57.79L172.50 57.79L172.70 102.7Z" fill="url(#sp)"/>
<path d="M22.4 102.7V8.05H175.7" fill="none" stroke="#1c1c1c" stroke-width="1.25" stroke-linecap="square"/>
<path d="M22.4 102.7H175.7" fill="none" stroke="#0a0a0a" stroke-width="1.6" stroke-linecap="square"/>
<path d="M175.7 102.7V8.05" fill="none" stroke="#141414" stroke-width="1.2" stroke-linecap="square"/>
<path d="M22.4 102.00h2.6M175.7 102.00h-2.6M22.4 98.16h1.6M175.7 98.16h-1.6M22.4 94.33h1.6M175.7 94.33h-1.6M22.4 90.49h1.6M175.7 90.49h-1.6M22.4 86.65h2.6M175.7 86.65h-2.6M22.4 82.81h1.6M175.7 82.81h-1.6M22.4 78.97h1.6M175.7 78.97h-1.6M22.4 75.14h1.6M175.7 75.14h-1.6M22.4 71.30h2.6M175.7 71.30h-2.6M22.4 67.46h1.6M175.7 67.46h-1.6M22.4 63.62h1.6M175.7 63.62h-1.6M22.4 59.79h1.6M175.7 59.79h-1.6M22.4 55.95h2.6M175.7 55.95h-2.6M22.4 52.11h1.6M175.7 52.11h-1.6M22.4 48.27h1.6M175.7 48.27h-1.6M22.4 44.44h1.6M175.7 44.44h-1.6M22.4 40.60h2.6M175.7 40.60h-2.6M22.4 36.76h1.6M175.7 36.76h-1.6M22.4 32.92h1.6M175.7 32.92h-1.6M22.4 29.09h1.6M175.7 29.09h-1.6M22.4 25.25h2.6M175.7 25.25h-2.6M22.4 21.41h1.6M175.7 21.41h-1.6M22.4 17.57h1.6M175.7 17.57h-1.6M22.4 13.74h1.6M175.7 13.74h-1.6M22.4 9.90h2.6M175.7 9.90h-2.6M25.5 102.7v3.4M172.4 102.7v3.4" stroke="#111" stroke-width="1" fill="none"/>
</g>
<text x="18.4" y="105.70" font-size="10.7" text-anchor="end">0.0</text>
<text x="18.4" y="90.35" font-size="10.7" text-anchor="end">0.2</text>
<text x="18.4" y="75.00" font-size="10.7" text-anchor="end">0.4</text>
<text x="18.4" y="59.65" font-size="10.7" text-anchor="end">0.6</text>
<text x="18.4" y="44.30" font-size="10.7" text-anchor="end">0.8</text>
<text x="18.4" y="28.95" font-size="10.7" text-anchor="end">1.0</text>
<text x="18.4" y="13.60" font-size="10.7" text-anchor="end">1.2</text>
<text x="50.09" y="114.4" font-size="11" text-anchor="middle">400</text>
<text x="74.51" y="114.4" font-size="11" text-anchor="middle">450</text>
<text x="98.93" y="114.4" font-size="11" text-anchor="middle">500</text>
<text x="123.35" y="114.4" font-size="11" text-anchor="middle">550</text>
<text x="147.77" y="114.4" font-size="11" text-anchor="middle">600</text>
<text x="172.19" y="114.4" font-size="11" text-anchor="middle">650</text>
<text x="99.54" y="120" font-size="11.3" text-anchor="middle">Wave Length</text>
<text x="181.6" y="66.9" font-size="12.5" font-style="italic" font-weight="bold" style="font-family:'Liberation Mono',monospace">,</text>
</g>
<g transform="translate(208.70,295.4)">
<g transform="translate(22.4,0) scale(1.007,1) translate(-22.4,0)">
<path d="M49.70 8.05V102.7M73.95 8.05V102.7M98.20 8.05V102.7M122.45 8.05V102.7M146.70 8.05V102.7M22.4 86.65H175.7M22.4 71.30H175.7M22.4 55.95H175.7M22.4 40.60H175.7M22.4 25.25H175.7" stroke="#646464" stroke-width="1" fill="none"/>
<path d="M25.00 102.7L25.00 56.03L25.50 56.03L26.00 56.03L26.50 56.03L27.00 56.03L27.50 56.03L28.00 56.03L28.50 56.03L29.00 56.03L29.50 56.03L30.00 56.03L30.50 56.03L31.00 56.03L31.50 56.03L32.00 56.03L32.50 56.03L33.00 56.03L33.50 56.03L34.00 56.03L34.50 56.03L35.00 56.03L35.50 56.03L36.00 56.03L36.50 56.03L37.00 56.03L37.50 56.03L38.00 56.03L38.50 56.03L39.00 56.03L39.50 56.03L40.00 56.03L40.50 56.03L41.00 56.03L41.50 56.03L42.00 56.03L42.50 56.03L43.00 56.03L43.50 56.03L44.00 56.03L44.50 56.03L45.00 56.03L45.50 56.03L46.00 56.03L46.50 56.03L47.00 56.03L47.50 56.03L48.00 56.03L48.50 56.03L49.00 56.03L49.50 56.03L50.00 56.03L50.50 55.98L51.00 55.94L51.50 55.89L52.00 55.84L52.50 55.80L53.00 55.75L53.50 55.71L54.00 55.66L54.50 55.62L55.00 55.57L55.50 55.52L56.00 55.43L56.50 55.35L57.00 55.26L57.50 55.18L58.00 55.09L58.50 55.01L59.00 54.92L59.50 54.83L60.00 54.75L60.50 54.66L61.00 54.58L61.50 54.49L62.00 54.41L62.50 54.32L63.00 54.20L63.50 54.08L64.00 53.97L64.50 53.85L65.00 53.74L65.50 53.62L66.00 53.50L66.50 53.39L67.00 53.27L67.50 53.15L68.00 52.98L68.50 52.78L69.00 52.57L69.50 52.37L70.00 52.16L70.50 51.96L71.00 51.75L71.50 51.55L72.00 51.34L72.50 51.13L73.00 50.93L73.50 50.57L74.00 50.22L74.50 49.87L75.00 49.51L75.50 49.16L76.00 48.80L76.50 48.45L77.00 47.92L77.50 47.35L78.00 46.78L78.50 46.21L79.00 45.64L79.50 45.07L80.00 44.50L80.50 43.98L81.00 43.46L81.50 42.94L82.00 42.43L82.50 41.91L83.00 41.39L83.50 40.88L84.00 40.41L84.50 39.95L85.00 39.49L85.50 39.04L86.00 38.58L86.50 38.12L87.00 37.67L87.50 37.26L88.00 36.90L88.50 36.54L89.00 36.17L89.50 35.81L90.00 35.44L90.50 35.08L91.00 34.85L91.50 34.70L92.00 34.55L92.50 34.40L93.00 34.25L93.50 34.10L94.00 33.95L94.50 33.83L95.00 33.75L95.50 33.67L96.00 33.59L96.50 33.51L97.00 33.43L97.50 33.34L98.00 33.26L98.50 33.18L99.00 33.10L99.50 33.02L100.00 33.02L100.50 33.05L101.00 33.08L101.50 33.10L102.00 33.13L102.50 33.16L103.00 33.19L103.50 33.21L104.00 33.24L104.50 33.27L105.00 33.30L105.50 33.33L106.00 33.37L106.50 33.41L107.00 33.44L107.50 33.48L108.00 33.54L108.50 33.61L109.00 33.68L109.50 33.75L110.00 33.83L110.50 33.90L111.00 33.97L111.50 34.04L112.00 34.11L112.50 34.19L113.00 34.26L113.50 34.33L114.00 34.54L114.50 34.84L115.00 35.14L115.50 35.45L116.00 35.75L116.50 36.05L117.00 36.34L117.50 36.59L118.00 36.84L118.50 37.09L119.00 37.33L119.50 37.58L120.00 37.83L120.50 38.08L121.00 38.33L121.50 38.57L122.00 38.82L122.50 39.09L123.00 39.37L123.50 39.65L124.00 39.93L124.50 40.21L125.00 40.48L125.50 40.74L126.00 40.99L126.50 41.25L127.00 41.50L127.50 41.76L128.00 42.08L128.50 42.39L129.00 42.71L129.50 43.02L130.00 43.34L130.50 43.70L131.00 44.12L131.50 44.55L132.00 44.93L132.50 45.28L133.00 45.64L133.50 45.99L134.00 46.34L134.50 46.70L135.00 47.05L135.50 47.40L136.00 47.89L136.50 48.40L137.00 48.91L137.50 49.29L138.00 49.56L138.50 49.84L139.00 50.12L139.50 50.40L140.00 50.67L140.50 50.95L141.00 51.22L141.50 51.42L142.00 51.63L142.50 51.83L143.00 52.04L143.50 52.24L144.00 52.45L144.50 52.66L145.00 52.86L145.50 53.07L146.00 53.27L146.50 53.43L147.00 53.56L147.50 53.69L148.00 53.82L148.50 53.95L149.00 54.08L149.50 54.21L150.00 54.34L150.50 54.46L151.00 54.55L151.50 54.63L152.00 54.71L152.50 54.79L153.00 54.87L153.50 54.95L154.00 55.03L154.50 55.12L155.00 55.20L155.50 55.28L156.00 55.34L156.50 55.37L157.00 55.40L157.50 55.44L158.00 55.47L158.50 55.50L159.00 55.53L159.50 55.57L160.00 55.60L160.50 55.63L161.00 55.66L161.50 55.69L162.00 55.73L162.50 55.75L163.00 55.77L163.50 55.79L164.00 55.82L164.50 55.84L165.00 55.86L165.50 55.88L166.00 55.90L166.50 55.92L167.00 55.94L167.50 55.96L168.00 55.99L168.50 55.99L169.00 55.99L169.50 56.00L170.00 56.00L170.50 56.01L171.00 56.01L171.50 56.02L172.00 56.02L172.50 56.03L172.70 102.7Z" fill="url(#sp)"/>
<path d="M22.4 102.7V8.05H175.7" fill="none" stroke="#1c1c1c" stroke-width="1.25" stroke-linecap="square"/>
<path d="M22.4 102.7H175.7" fill="none" stroke="#0a0a0a" stroke-width="1.6" stroke-linecap="square"/>
<path d="M175.7 102.7V8.05" fill="none" stroke="#141414" stroke-width="1.2" stroke-linecap="square"/>
<path d="M22.4 102.00h2.6M175.7 102.00h-2.6M22.4 98.16h1.6M175.7 98.16h-1.6M22.4 94.33h1.6M175.7 94.33h-1.6M22.4 90.49h1.6M175.7 90.49h-1.6M22.4 86.65h2.6M175.7 86.65h-2.6M22.4 82.81h1.6M175.7 82.81h-1.6M22.4 78.97h1.6M175.7 78.97h-1.6M22.4 75.14h1.6M175.7 75.14h-1.6M22.4 71.30h2.6M175.7 71.30h-2.6M22.4 67.46h1.6M175.7 67.46h-1.6M22.4 63.62h1.6M175.7 63.62h-1.6M22.4 59.79h1.6M175.7 59.79h-1.6M22.4 55.95h2.6M175.7 55.95h-2.6M22.4 52.11h1.6M175.7 52.11h-1.6M22.4 48.27h1.6M175.7 48.27h-1.6M22.4 44.44h1.6M175.7 44.44h-1.6M22.4 40.60h2.6M175.7 40.60h-2.6M22.4 36.76h1.6M175.7 36.76h-1.6M22.4 32.92h1.6M175.7 32.92h-1.6M22.4 29.09h1.6M175.7 29.09h-1.6M22.4 25.25h2.6M175.7 25.25h-2.6M22.4 21.41h1.6M175.7 21.41h-1.6M22.4 17.57h1.6M175.7 17.57h-1.6M22.4 13.74h1.6M175.7 13.74h-1.6M22.4 9.90h2.6M175.7 9.90h-2.6M25.5 102.7v3.4M172.4 102.7v3.4" stroke="#111" stroke-width="1" fill="none"/>
</g>
<text x="18.4" y="105.70" font-size="10.7" text-anchor="end">0.0</text>
<text x="18.4" y="90.35" font-size="10.7" text-anchor="end">0.2</text>
<text x="18.4" y="75.00" font-size="10.7" text-anchor="end">0.4</text>
<text x="18.4" y="59.65" font-size="10.7" text-anchor="end">0.6</text>
<text x="18.4" y="44.30" font-size="10.7" text-anchor="end">0.8</text>
<text x="18.4" y="28.95" font-size="10.7" text-anchor="end">1.0</text>
<text x="18.4" y="13.60" font-size="10.7" text-anchor="end">1.2</text>
<text x="50.09" y="114.4" font-size="11" text-anchor="middle">400</text>
<text x="74.51" y="114.4" font-size="11" text-anchor="middle">450</text>
<text x="98.93" y="114.4" font-size="11" text-anchor="middle">500</text>
<text x="123.35" y="114.4" font-size="11" text-anchor="middle">550</text>
<text x="147.77" y="114.4" font-size="11" text-anchor="middle">600</text>
<text x="172.19" y="114.4" font-size="11" text-anchor="middle">650</text>
<text x="99.54" y="120" font-size="11.3" text-anchor="middle">Wave Length</text>
<text transform="translate(-6.8,55.8) rotate(-90)" font-size="10.4" text-anchor="middle">Intensity</text>
<text x="181.6" y="66.9" font-size="12.5" font-style="italic" font-weight="bold" style="font-family:'Liberation Mono',monospace">,</text>
</g>
<g transform="translate(417.70,295.4)">
<g transform="translate(22.4,0) scale(1.007,1) translate(-22.4,0)">
<path d="M49.70 8.05V102.7M73.95 8.05V102.7M98.20 8.05V102.7M122.45 8.05V102.7M146.70 8.05V102.7M22.4 86.65H175.7M22.4 71.30H175.7M22.4 55.95H175.7M22.4 40.60H175.7M22.4 25.25H175.7" stroke="#646464" stroke-width="1" fill="none"/>
<path d="M25.00 102.7L25.00 54.57L25.50 54.57L26.00 54.57L26.50 54.57L27.00 54.57L27.50 54.57L28.00 54.57L28.50 54.57L29.00 54.57L29.50 54.57L30.00 54.57L30.50 54.57L31.00 54.57L31.50 54.57L32.00 54.57L32.50 54.57L33.00 54.57L33.50 54.57L34.00 54.57L34.50 54.57L35.00 54.57L35.50 54.57L36.00 54.57L36.50 54.57L37.00 54.57L37.50 54.57L38.00 54.57L38.50 54.57L39.00 54.57L39.50 54.57L40.00 54.57L40.50 54.57L41.00 54.57L41.50 54.57L42.00 54.57L42.50 54.57L43.00 54.57L43.50 54.57L44.00 54.57L44.50 54.57L45.00 54.57L45.50 54.57L46.00 54.57L46.50 54.57L47.00 54.57L47.50 54.57L48.00 54.57L48.50 54.57L49.00 54.57L49.50 54.57L50.00 54.57L50.50 54.53L51.00 54.48L51.50 54.44L52.00 54.40L52.50 54.35L53.00 54.31L53.50 54.27L54.00 54.23L54.50 54.18L55.00 54.14L55.50 54.09L56.00 54.01L56.50 53.93L57.00 53.85L57.50 53.77L58.00 53.69L58.50 53.61L59.00 53.53L59.50 53.45L60.00 53.37L60.50 53.29L61.00 53.21L61.50 53.13L62.00 53.05L62.50 52.97L63.00 52.86L63.50 52.75L64.00 52.64L64.50 52.53L65.00 52.42L65.50 52.31L66.00 52.20L66.50 52.10L67.00 51.99L67.50 51.88L68.00 51.72L68.50 51.53L69.00 51.33L69.50 51.14L70.00 50.95L70.50 50.76L71.00 50.56L71.50 50.37L72.00 50.18L72.50 49.99L73.00 49.79L73.50 49.46L74.00 49.13L74.50 48.80L75.00 48.47L75.50 48.13L76.00 47.80L76.50 47.47L77.00 46.98L77.50 46.44L78.00 45.91L78.50 45.38L79.00 44.84L79.50 44.31L80.00 43.78L80.50 43.28L81.00 42.80L81.50 42.31L82.00 41.83L82.50 41.35L83.00 40.86L83.50 40.38L84.00 39.94L84.50 39.51L85.00 39.08L85.50 38.65L86.00 38.23L86.50 37.80L87.00 37.37L87.50 36.99L88.00 36.65L88.50 36.31L89.00 35.97L89.50 35.63L90.00 35.29L90.50 34.95L91.00 34.73L91.50 34.59L92.00 34.45L92.50 34.31L93.00 34.17L93.50 34.03L94.00 33.89L94.50 33.78L95.00 33.70L95.50 33.63L96.00 33.55L96.50 33.47L97.00 33.40L97.50 33.32L98.00 33.25L98.50 33.17L99.00 33.09L99.50 33.02L100.00 33.02L100.50 33.05L101.00 33.07L101.50 33.10L102.00 33.12L102.50 33.15L103.00 33.17L103.50 33.20L104.00 33.23L104.50 33.25L105.00 33.28L105.50 33.31L106.00 33.35L106.50 33.38L107.00 33.42L107.50 33.45L108.00 33.50L108.50 33.57L109.00 33.64L109.50 33.71L110.00 33.77L110.50 33.84L111.00 33.91L111.50 33.98L112.00 34.04L112.50 34.11L113.00 34.18L113.50 34.25L114.00 34.44L114.50 34.73L115.00 35.01L115.50 35.29L116.00 35.57L116.50 35.86L117.00 36.13L117.50 36.36L118.00 36.59L118.50 36.83L119.00 37.06L119.50 37.29L120.00 37.52L120.50 37.76L121.00 37.99L121.50 38.22L122.00 38.45L122.50 38.70L123.00 38.97L123.50 39.23L124.00 39.49L124.50 39.75L125.00 40.01L125.50 40.25L126.00 40.49L126.50 40.73L127.00 40.97L127.50 41.20L128.00 41.50L128.50 41.80L129.00 42.09L129.50 42.39L130.00 42.68L130.50 43.02L131.00 43.42L131.50 43.82L132.00 44.18L132.50 44.51L133.00 44.84L133.50 45.17L134.00 45.50L134.50 45.83L135.00 46.16L135.50 46.49L136.00 46.94L136.50 47.42L137.00 47.91L137.50 48.25L138.00 48.51L138.50 48.78L139.00 49.04L139.50 49.30L140.00 49.56L140.50 49.82L141.00 50.06L141.50 50.26L142.00 50.45L142.50 50.64L143.00 50.83L143.50 51.03L144.00 51.22L144.50 51.41L145.00 51.60L145.50 51.80L146.00 51.99L146.50 52.14L147.00 52.26L147.50 52.38L148.00 52.50L148.50 52.62L149.00 52.74L149.50 52.86L150.00 52.98L150.50 53.11L151.00 53.18L151.50 53.26L152.00 53.33L152.50 53.41L153.00 53.49L153.50 53.56L154.00 53.64L154.50 53.72L155.00 53.79L155.50 53.87L156.00 53.93L156.50 53.96L157.00 53.99L157.50 54.02L158.00 54.05L158.50 54.08L159.00 54.11L159.50 54.14L160.00 54.17L160.50 54.20L161.00 54.23L161.50 54.26L162.00 54.29L162.50 54.31L163.00 54.33L163.50 54.35L164.00 54.37L164.50 54.39L165.00 54.41L165.50 54.43L166.00 54.45L166.50 54.47L167.00 54.49L167.50 54.51L168.00 54.53L168.50 54.53L169.00 54.54L169.50 54.54L170.00 54.55L170.50 54.55L171.00 54.55L171.50 54.56L172.00 54.56L172.50 54.57L172.70 102.7Z" fill="url(#sp)"/>
<path d="M22.4 102.7V8.05H175.7" fill="none" stroke="#1c1c1c" stroke-width="1.25" stroke-linecap="square"/>
<path d="M22.4 102.7H175.7" fill="none" stroke="#0a0a0a" stroke-width="1.6" stroke-linecap="square"/>
<path d="M175.7 102.7V8.05" fill="none" stroke="#141414" stroke-width="1.2" stroke-linecap="square"/>
<path d="M22.4 102.00h2.6M175.7 102.00h-2.6M22.4 98.16h1.6M175.7 98.16h-1.6M22.4 94.33h1.6M175.7 94.33h-1.6M22.4 90.49h1.6M175.7 90.49h-1.6M22.4 86.65h2.6M175.7 86.65h-2.6M22.4 82.81h1.6M175.7 82.81h-1.6M22.4 78.97h1.6M175.7 78.97h-1.6M22.4 75.14h1.6M175.7 75.14h-1.6M22.4 71.30h2.6M175.7 71.30h-2.6M22.4 67.46h1.6M175.7 67.46h-1.6M22.4 63.62h1.6M175.7 63.62h-1.6M22.4 59.79h1.6M175.7 59.79h-1.6M22.4 55.95h2.6M175.7 55.95h-2.6M22.4 52.11h1.6M175.7 52.11h-1.6M22.4 48.27h1.6M175.7 48.27h-1.6M22.4 44.44h1.6M175.7 44.44h-1.6M22.4 40.60h2.6M175.7 40.60h-2.6M22.4 36.76h1.6M175.7 36.76h-1.6M22.4 32.92h1.6M175.7 32.92h-1.6M22.4 29.09h1.6M175.7 29.09h-1.6M22.4 25.25h2.6M175.7 25.25h-2.6M22.4 21.41h1.6M175.7 21.41h-1.6M22.4 17.57h1.6M175.7 17.57h-1.6M22.4 13.74h1.6M175.7 13.74h-1.6M22.4 9.90h2.6M175.7 9.90h-2.6M25.5 102.7v3.4M172.4 102.7v3.4" stroke="#111" stroke-width="1" fill="none"/>
</g>
<text x="18.4" y="105.70" font-size="10.7" text-anchor="end">0.0</text>
<text x="18.4" y="90.35" font-size="10.7" text-anchor="end">0.2</text>
<text x="18.4" y="75.00" font-size="10.7" text-anchor="end">0.4</text>
<text x="18.4" y="59.65" font-size="10.7" text-anchor="end">0.6</text>
<text x="18.4" y="44.30" font-size="10.7" text-anchor="end">0.8</text>
<text x="18.4" y="28.95" font-size="10.7" text-anchor="end">1.0</text>
<text x="18.4" y="13.60" font-size="10.7" text-anchor="end">1.2</text>
<text x="50.09" y="114.4" font-size="11" text-anchor="middle">400</text>
<text x="74.51" y="114.4" font-size="11" text-anchor="middle">450</text>
<text x="98.93" y="114.4" font-size="11" text-anchor="middle">500</text>
<text x="123.35" y="114.4" font-size="11" text-anchor="middle">550</text>
<text x="147.77" y="114.4" font-size="11" text-anchor="middle">600</text>
<text x="172.19" y="114.4" font-size="11" text-anchor="middle">650</text>
<text x="99.54" y="120" font-size="11.3" text-anchor="middle">Wave Length</text>
<text transform="translate(-6.8,55.8) rotate(-90)" font-size="10.4" text-anchor="middle">Intensity</text>
</g>
</svg></body></html>
